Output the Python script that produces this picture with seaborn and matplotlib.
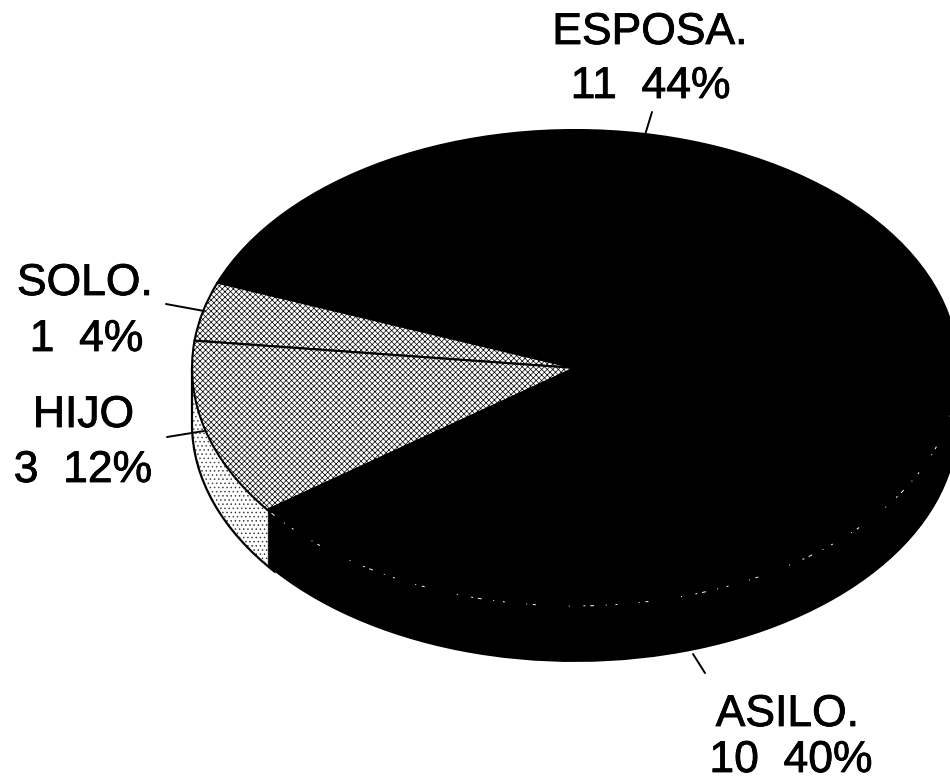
import numpy as np
import matplotlib
matplotlib.use("Agg")
import matplotlib.pyplot as plt
from matplotlib.patches import Arc
from matplotlib.patheffects import withStroke
import seaborn as sns

# Living arrangement counts, in the order the slices run counter-clockwise
categories = ["ESPOSA.", "SOLO.", "HIJO", "ASILO."]
counts = [11, 1, 3, 10]
percents = [44, 4, 12, 40]
value_labels = ["11  44%", "1  4%", "3  12%", "10  40%"]

WIDTH, HEIGHT = 950, 781
CX, CY, RX, RY = 575, 368, 383, 238   # pie ellipse in pixels
DEPTH = 56                            # thickness of the pie in pixels
START = 0.6

sns.set_theme(style="white")
plt.rcParams["font.family"] = ["Liberation Sans", "DejaVu Sans"]
plt.rcParams["hatch.linewidth"] = 0.5

fig = plt.figure(figsize=(WIDTH / 100, HEIGHT / 100), dpi=100, facecolor="white")
ax = fig.add_axes([0, 0, 1, 1])


def ux(px):
    return (px - CX) / RX


def uy(py):
    return (CY - py) / RY


face_colors = ["black", "white", "white", "black"]
side_hatches = ["", "....", "....", ""]
top_hatches = ["", "xxxxxx", "xxxxxx", ""]
asilo_start = START + 360 * sum(counts[:3]) / sum(counts)

# The rim: a stack of pies from the bottom face upward
for d in range(DEPTH, 0, -1):
    ax.pie(counts, colors=face_colors, hatch=side_hatches, startangle=START,
           radius=1, center=(0, -d / RY), normalize=True,
           wedgeprops=dict(edgecolor="black", linewidth=0))

# Outline of the rim on the left side
ax.add_patch(Arc((0, -DEPTH / RY), 2, 2, theta1=180, theta2=asilo_start + 2,
                 color="black", linewidth=1.6))
ax.plot([-1, -1], [0, -DEPTH / RY], color="black", linewidth=1.6)

# Top face
ax.pie(counts, colors=face_colors, hatch=top_hatches, startangle=START,
       radius=1, center=(0, 0), normalize=True,
       wedgeprops=dict(edgecolor="black", linewidth=1.5))

# Worn print along the front edge of the black slice
ax.add_patch(Arc((0, 0), 2, 2, theta1=asilo_start + 1, theta2=START + 360,
                 color="white", linewidth=0.7,
                 linestyle=(0, (4, 12, 1, 9, 2, 22, 1, 6, 3, 34, 1, 14, 2, 5))))

ax.set_aspect("auto")
ax.set_xlim(ux(0), ux(WIDTH))
ax.set_ylim(uy(HEIGHT), uy(0))
ax.set_axis_off()

# Category and value labels
name_x = [650, 85, 83.5, 787.5]
name_base = [44, 295, 427, 726]
value_x = [650.5, 86.5, 83, 791]
value_base = [98, 351, 482, 772]
ink = [withStroke(linewidth=0.6, foreground="black")]
for name, value, nx, ny, vx, vy in zip(categories, value_labels, name_x, name_base,
                                       value_x, value_base):
    ax.text(ux(nx), uy(ny), name, fontsize=32, color="black", ha="center",
            va="baseline", path_effects=ink)
    ax.text(ux(vx), uy(vy), value, fontsize=32, color="black", ha="center",
            va="baseline", path_effects=ink)

# Leader lines from labels to slices
leaders = [((652, 112), (645, 135)), ((166, 304), (204, 311)),
           ((167, 437), (204, 431)), ((693, 654), (705, 673))]
for (x0, y0), (x1, y1) in leaders:
    ax.plot([ux(x0), ux(x1)], [uy(y0), uy(y1)], color="black", linewidth=1.4,
            solid_capstyle="round")

fig.savefig("out.png", dpi=100, facecolor="white")
